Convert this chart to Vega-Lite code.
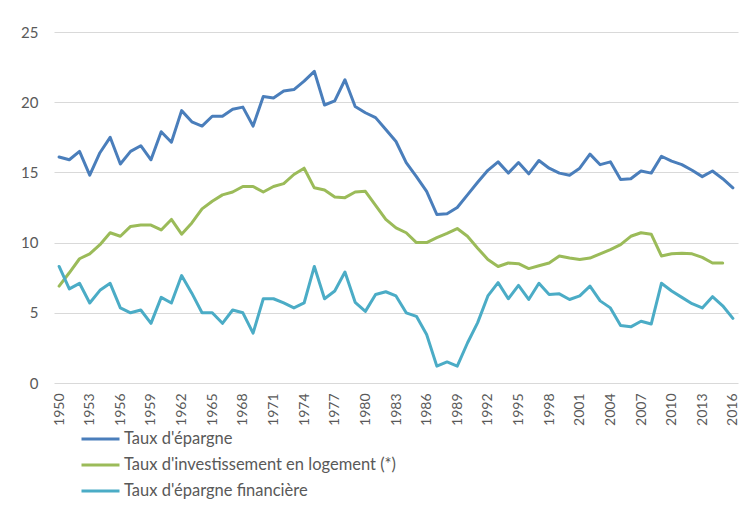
{
  "$schema": "https://vega.github.io/schema/vega-lite/v6.json",
  "autosize": {"type": "none"},
  "width": 684,
  "height": 351,
  "padding": {"left": 54, "top": 32, "right": 14, "bottom": 128},
  "background": "white",
  "config": {
    "font": "Lato",
    "view": {"stroke": null},
    "axis": {"labelColor": "#595959", "labelFont": "Lato", "domain": false, "ticks": false, "title": null}
  },
  "data": {
    "values": [
      {"year":1950,"series":"Taux d'épargne","value":16.1},{"year":1951,"series":"Taux d'épargne","value":15.9},{"year":1952,"series":"Taux d'épargne","value":16.5},{"year":1953,"series":"Taux d'épargne","value":14.8},{"year":1954,"series":"Taux d'épargne","value":16.4},{"year":1955,"series":"Taux d'épargne","value":17.5},{"year":1956,"series":"Taux d'épargne","value":15.6},{"year":1957,"series":"Taux d'épargne","value":16.5},{"year":1958,"series":"Taux d'épargne","value":16.9},{"year":1959,"series":"Taux d'épargne","value":15.9},
      {"year":1960,"series":"Taux d'épargne","value":17.9},{"year":1961,"series":"Taux d'épargne","value":17.15},{"year":1962,"series":"Taux d'épargne","value":19.4},{"year":1963,"series":"Taux d'épargne","value":18.6},{"year":1964,"series":"Taux d'épargne","value":18.3},{"year":1965,"series":"Taux d'épargne","value":19.0},{"year":1966,"series":"Taux d'épargne","value":19.0},{"year":1967,"series":"Taux d'épargne","value":19.5},{"year":1968,"series":"Taux d'épargne","value":19.65},{"year":1969,"series":"Taux d'épargne","value":18.3},
      {"year":1970,"series":"Taux d'épargne","value":20.4},{"year":1971,"series":"Taux d'épargne","value":20.3},{"year":1972,"series":"Taux d'épargne","value":20.8},{"year":1973,"series":"Taux d'épargne","value":20.9},{"year":1974,"series":"Taux d'épargne","value":21.5},{"year":1975,"series":"Taux d'épargne","value":22.2},{"year":1976,"series":"Taux d'épargne","value":19.8},{"year":1977,"series":"Taux d'épargne","value":20.1},{"year":1978,"series":"Taux d'épargne","value":21.6},{"year":1979,"series":"Taux d'épargne","value":19.7},
      {"year":1980,"series":"Taux d'épargne","value":19.25},{"year":1981,"series":"Taux d'épargne","value":18.9},{"year":1982,"series":"Taux d'épargne","value":18.05},{"year":1983,"series":"Taux d'épargne","value":17.2},{"year":1984,"series":"Taux d'épargne","value":15.7},{"year":1985,"series":"Taux d'épargne","value":14.7},{"year":1986,"series":"Taux d'épargne","value":13.65},{"year":1987,"series":"Taux d'épargne","value":12.0},{"year":1988,"series":"Taux d'épargne","value":12.05},{"year":1989,"series":"Taux d'épargne","value":12.5},
      {"year":1990,"series":"Taux d'épargne","value":13.4},{"year":1991,"series":"Taux d'épargne","value":14.3},{"year":1992,"series":"Taux d'épargne","value":15.15},{"year":1993,"series":"Taux d'épargne","value":15.75},{"year":1994,"series":"Taux d'épargne","value":14.95},{"year":1995,"series":"Taux d'épargne","value":15.7},{"year":1996,"series":"Taux d'épargne","value":14.9},{"year":1997,"series":"Taux d'épargne","value":15.85},{"year":1998,"series":"Taux d'épargne","value":15.3},{"year":1999,"series":"Taux d'épargne","value":14.95},
      {"year":2000,"series":"Taux d'épargne","value":14.8},{"year":2001,"series":"Taux d'épargne","value":15.3},{"year":2002,"series":"Taux d'épargne","value":16.3},{"year":2003,"series":"Taux d'épargne","value":15.55},{"year":2004,"series":"Taux d'épargne","value":15.75},{"year":2005,"series":"Taux d'épargne","value":14.5},{"year":2006,"series":"Taux d'épargne","value":14.55},{"year":2007,"series":"Taux d'épargne","value":15.1},{"year":2008,"series":"Taux d'épargne","value":14.95},{"year":2009,"series":"Taux d'épargne","value":16.15},
      {"year":2010,"series":"Taux d'épargne","value":15.8},{"year":2011,"series":"Taux d'épargne","value":15.55},{"year":2012,"series":"Taux d'épargne","value":15.15},{"year":2013,"series":"Taux d'épargne","value":14.7},{"year":2014,"series":"Taux d'épargne","value":15.1},{"year":2015,"series":"Taux d'épargne","value":14.55},{"year":2016,"series":"Taux d'épargne","value":13.9},

      {"year":1950,"series":"Taux d'investissement en logement (*)","value":6.9},{"year":1951,"series":"Taux d'investissement en logement (*)","value":7.85},{"year":1952,"series":"Taux d'investissement en logement (*)","value":8.85},{"year":1953,"series":"Taux d'investissement en logement (*)","value":9.2},{"year":1954,"series":"Taux d'investissement en logement (*)","value":9.85},{"year":1955,"series":"Taux d'investissement en logement (*)","value":10.7},{"year":1956,"series":"Taux d'investissement en logement (*)","value":10.45},{"year":1957,"series":"Taux d'investissement en logement (*)","value":11.15},{"year":1958,"series":"Taux d'investissement en logement (*)","value":11.25},{"year":1959,"series":"Taux d'investissement en logement (*)","value":11.25},
      {"year":1960,"series":"Taux d'investissement en logement (*)","value":10.9},{"year":1961,"series":"Taux d'investissement en logement (*)","value":11.65},{"year":1962,"series":"Taux d'investissement en logement (*)","value":10.6},{"year":1963,"series":"Taux d'investissement en logement (*)","value":11.4},{"year":1964,"series":"Taux d'investissement en logement (*)","value":12.4},{"year":1965,"series":"Taux d'investissement en logement (*)","value":12.95},{"year":1966,"series":"Taux d'investissement en logement (*)","value":13.4},{"year":1967,"series":"Taux d'investissement en logement (*)","value":13.6},{"year":1968,"series":"Taux d'investissement en logement (*)","value":14.0},{"year":1969,"series":"Taux d'investissement en logement (*)","value":14.0},
      {"year":1970,"series":"Taux d'investissement en logement (*)","value":13.6},{"year":1971,"series":"Taux d'investissement en logement (*)","value":14.0},{"year":1972,"series":"Taux d'investissement en logement (*)","value":14.2},{"year":1973,"series":"Taux d'investissement en logement (*)","value":14.85},{"year":1974,"series":"Taux d'investissement en logement (*)","value":15.3},{"year":1975,"series":"Taux d'investissement en logement (*)","value":13.9},{"year":1976,"series":"Taux d'investissement en logement (*)","value":13.75},{"year":1977,"series":"Taux d'investissement en logement (*)","value":13.25},{"year":1978,"series":"Taux d'investissement en logement (*)","value":13.2},{"year":1979,"series":"Taux d'investissement en logement (*)","value":13.6},
      {"year":1980,"series":"Taux d'investissement en logement (*)","value":13.65},{"year":1981,"series":"Taux d'investissement en logement (*)","value":12.65},{"year":1982,"series":"Taux d'investissement en logement (*)","value":11.65},{"year":1983,"series":"Taux d'investissement en logement (*)","value":11.05},{"year":1984,"series":"Taux d'investissement en logement (*)","value":10.7},{"year":1985,"series":"Taux d'investissement en logement (*)","value":10.0},{"year":1986,"series":"Taux d'investissement en logement (*)","value":10.0},{"year":1987,"series":"Taux d'investissement en logement (*)","value":10.35},{"year":1988,"series":"Taux d'investissement en logement (*)","value":10.65},{"year":1989,"series":"Taux d'investissement en logement (*)","value":11.0},
      {"year":1990,"series":"Taux d'investissement en logement (*)","value":10.45},{"year":1991,"series":"Taux d'investissement en logement (*)","value":9.6},{"year":1992,"series":"Taux d'investissement en logement (*)","value":8.8},{"year":1993,"series":"Taux d'investissement en logement (*)","value":8.3},{"year":1994,"series":"Taux d'investissement en logement (*)","value":8.55},{"year":1995,"series":"Taux d'investissement en logement (*)","value":8.5},{"year":1996,"series":"Taux d'investissement en logement (*)","value":8.15},{"year":1997,"series":"Taux d'investissement en logement (*)","value":8.35},{"year":1998,"series":"Taux d'investissement en logement (*)","value":8.55},{"year":1999,"series":"Taux d'investissement en logement (*)","value":9.05},
      {"year":2000,"series":"Taux d'investissement en logement (*)","value":8.9},{"year":2001,"series":"Taux d'investissement en logement (*)","value":8.8},{"year":2002,"series":"Taux d'investissement en logement (*)","value":8.9},{"year":2003,"series":"Taux d'investissement en logement (*)","value":9.2},{"year":2004,"series":"Taux d'investissement en logement (*)","value":9.5},{"year":2005,"series":"Taux d'investissement en logement (*)","value":9.85},{"year":2006,"series":"Taux d'investissement en logement (*)","value":10.45},{"year":2007,"series":"Taux d'investissement en logement (*)","value":10.7},{"year":2008,"series":"Taux d'investissement en logement (*)","value":10.6},{"year":2009,"series":"Taux d'investissement en logement (*)","value":9.05},
      {"year":2010,"series":"Taux d'investissement en logement (*)","value":9.2},{"year":2011,"series":"Taux d'investissement en logement (*)","value":9.25},{"year":2012,"series":"Taux d'investissement en logement (*)","value":9.2},{"year":2013,"series":"Taux d'investissement en logement (*)","value":8.95},{"year":2014,"series":"Taux d'investissement en logement (*)","value":8.55},{"year":2015,"series":"Taux d'investissement en logement (*)","value":8.55},

      {"year":1950,"series":"Taux d'épargne financière","value":8.3},{"year":1951,"series":"Taux d'épargne financière","value":6.7},{"year":1952,"series":"Taux d'épargne financière","value":7.1},{"year":1953,"series":"Taux d'épargne financière","value":5.7},{"year":1954,"series":"Taux d'épargne financière","value":6.6},{"year":1955,"series":"Taux d'épargne financière","value":7.1},{"year":1956,"series":"Taux d'épargne financière","value":5.35},{"year":1957,"series":"Taux d'épargne financière","value":5.0},{"year":1958,"series":"Taux d'épargne financière","value":5.2},{"year":1959,"series":"Taux d'épargne financière","value":4.25},
      {"year":1960,"series":"Taux d'épargne financière","value":6.1},{"year":1961,"series":"Taux d'épargne financière","value":5.7},{"year":1962,"series":"Taux d'épargne financière","value":7.65},{"year":1963,"series":"Taux d'épargne financière","value":6.4},{"year":1964,"series":"Taux d'épargne financière","value":5.0},{"year":1965,"series":"Taux d'épargne financière","value":5.0},{"year":1966,"series":"Taux d'épargne financière","value":4.25},{"year":1967,"series":"Taux d'épargne financière","value":5.2},{"year":1968,"series":"Taux d'épargne financière","value":5.0},{"year":1969,"series":"Taux d'épargne financière","value":3.55},
      {"year":1970,"series":"Taux d'épargne financière","value":6.0},{"year":1971,"series":"Taux d'épargne financière","value":6.0},{"year":1972,"series":"Taux d'épargne financière","value":5.7},{"year":1973,"series":"Taux d'épargne financière","value":5.35},{"year":1974,"series":"Taux d'épargne financière","value":5.7},{"year":1975,"series":"Taux d'épargne financière","value":8.3},{"year":1976,"series":"Taux d'épargne financière","value":6.0},{"year":1977,"series":"Taux d'épargne financière","value":6.55},{"year":1978,"series":"Taux d'épargne financière","value":7.9},{"year":1979,"series":"Taux d'épargne financière","value":5.75},
      {"year":1980,"series":"Taux d'épargne financière","value":5.1},{"year":1981,"series":"Taux d'épargne financière","value":6.3},{"year":1982,"series":"Taux d'épargne financière","value":6.5},{"year":1983,"series":"Taux d'épargne financière","value":6.2},{"year":1984,"series":"Taux d'épargne financière","value":5.0},{"year":1985,"series":"Taux d'épargne financière","value":4.75},{"year":1986,"series":"Taux d'épargne financière","value":3.45},{"year":1987,"series":"Taux d'épargne financière","value":1.2},{"year":1988,"series":"Taux d'épargne financière","value":1.5},{"year":1989,"series":"Taux d'épargne financière","value":1.2},
      {"year":1990,"series":"Taux d'épargne financière","value":2.85},{"year":1991,"series":"Taux d'épargne financière","value":4.3},{"year":1992,"series":"Taux d'épargne financière","value":6.2},{"year":1993,"series":"Taux d'épargne financière","value":7.15},{"year":1994,"series":"Taux d'épargne financière","value":6.0},{"year":1995,"series":"Taux d'épargne financière","value":6.95},{"year":1996,"series":"Taux d'épargne financière","value":5.95},{"year":1997,"series":"Taux d'épargne financière","value":7.1},{"year":1998,"series":"Taux d'épargne financière","value":6.3},{"year":1999,"series":"Taux d'épargne financière","value":6.35},
      {"year":2000,"series":"Taux d'épargne financière","value":5.95},{"year":2001,"series":"Taux d'épargne financière","value":6.2},{"year":2002,"series":"Taux d'épargne financière","value":6.9},{"year":2003,"series":"Taux d'épargne financière","value":5.85},{"year":2004,"series":"Taux d'épargne financière","value":5.35},{"year":2005,"series":"Taux d'épargne financière","value":4.1},{"year":2006,"series":"Taux d'épargne financière","value":4.0},{"year":2007,"series":"Taux d'épargne financière","value":4.4},{"year":2008,"series":"Taux d'épargne financière","value":4.2},{"year":2009,"series":"Taux d'épargne financière","value":7.1},
      {"year":2010,"series":"Taux d'épargne financière","value":6.55},{"year":2011,"series":"Taux d'épargne financière","value":6.1},{"year":2012,"series":"Taux d'épargne financière","value":5.65},{"year":2013,"series":"Taux d'épargne financière","value":5.35},{"year":2014,"series":"Taux d'épargne financière","value":6.15},{"year":2015,"series":"Taux d'épargne financière","value":5.5},{"year":2016,"series":"Taux d'épargne financière","value":4.6}
    ]
  },
  "mark": {"type": "line", "strokeWidth": 3, "strokeJoin": "round", "strokeCap": "round"},
  "encoding": {
    "x": {
      "field": "year",
      "type": "quantitative",
      "scale": {"domain": [1949.5, 2016.5], "nice": false, "zero": false},
      "axis": {
        "values": [1950,1953,1956,1959,1962,1965,1968,1971,1974,1977,1980,1983,1986,1989,1992,1995,1998,2001,2004,2007,2010,2013,2016],
        "format": "d",
        "labelAngle": -90,
        "labelFontSize": 14,
        "labelPadding": 10,
        "grid": false,
        "labelFlush": false,
        "labelOverlap": false
      }
    },
    "y": {
      "field": "value",
      "type": "quantitative",
      "scale": {"domain": [0, 25], "nice": false},
      "axis": {
        "values": [0, 5, 10, 15, 20, 25],
        "labelFontSize": 15,
        "labelPadding": 16,
        "grid": true,
        "gridColor": "#D9D9D9",
        "gridWidth": 1
      }
    },
    "color": {
      "field": "series",
      "type": "nominal",
      "scale": {
        "domain": ["Taux d'épargne", "Taux d'investissement en logement (*)", "Taux d'épargne financière"],
        "range": ["#4A7EBB", "#9BBB59", "#4BACC6"]
      },
      "legend": {
        "title": null,
        "orient": "none",
        "legendX": 26,
        "legendY": 396,
        "direction": "vertical",
        "symbolType": "M-1,0H3",
        "symbolSize": 361,
        "symbolStrokeWidth": 3,
        "symbolFillColor": "transparent",
        "labelFontSize": 16.5,
        "labelFont": "Lato",
        "labelColor": "#595959",
        "labelOffset": 22,
        "rowPadding": 6,
        "labelLimit": 400
      }
    }
  }
}
